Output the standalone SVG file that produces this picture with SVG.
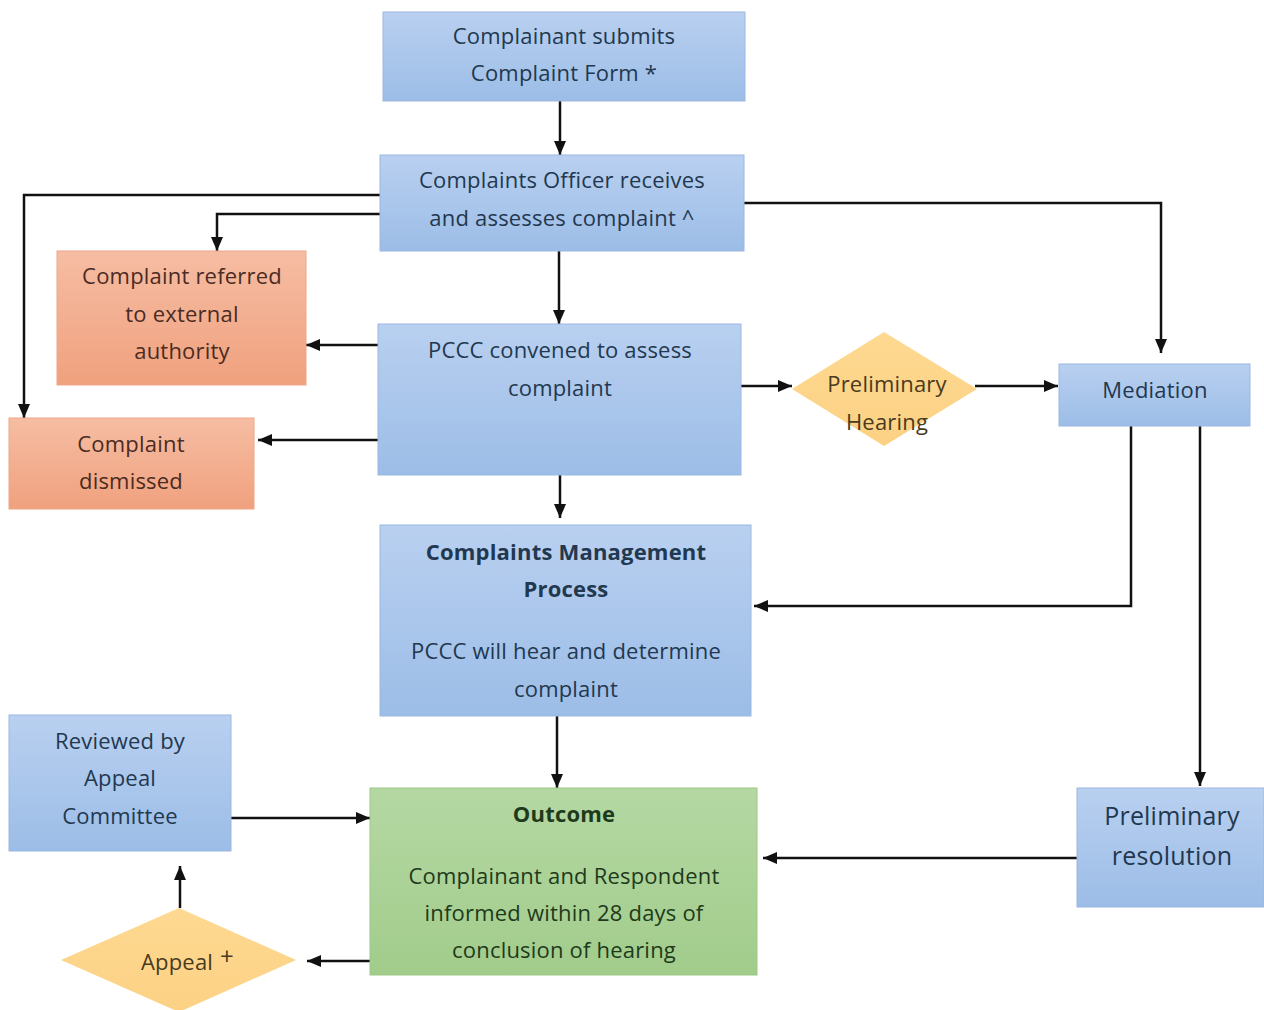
<svg xmlns="http://www.w3.org/2000/svg" width="1264" height="1010" viewBox="0 0 1264 1010">
<defs>
<linearGradient id="gb" x1="0" y1="0" x2="0" y2="1"><stop offset="0" stop-color="#b9d0f0"/><stop offset="1" stop-color="#9cbde7"/></linearGradient>
<linearGradient id="go" x1="0" y1="0" x2="0" y2="1"><stop offset="0" stop-color="#f6bda3"/><stop offset="1" stop-color="#f0a17e"/></linearGradient>
<linearGradient id="gg" x1="0" y1="0" x2="0" y2="1"><stop offset="0" stop-color="#b5d8a3"/><stop offset="1" stop-color="#a1cc8b"/></linearGradient>
<linearGradient id="gy" x1="0" y1="0" x2="0" y2="1"><stop offset="0" stop-color="#fed991"/><stop offset="1" stop-color="#fcd184"/></linearGradient>
<marker id="ah" viewBox="0 0 14 12" refX="14" refY="6" markerWidth="14" markerHeight="12" markerUnits="userSpaceOnUse" orient="auto"><path d="M0,0 L14,6 L0,12 z" fill="#111"/></marker>
</defs>
<style>
text{font-family:"Open Sans","Noto Sans",sans-serif;font-size:22px;text-anchor:middle;letter-spacing:0.2px}
.b{fill:url(#gb);stroke:#9ab8e0;stroke-width:1}
.o{fill:url(#go);stroke:#eea586;stroke-width:1}
.g{fill:url(#gg);stroke:#9cc785;stroke-width:1}
.y{fill:url(#gy)}
.tb{fill:#22384f}
.to{fill:#4b2b22}
.tg{fill:#1e3a1b}
.ty{fill:#4a3a1e}
.bold{font-weight:bold}
#connectors path{fill:none;stroke:#111;stroke-width:2.5;marker-end:url(#ah)}
</style>
<rect width="1264" height="1010" fill="#fff"/>
<g id="connectors">
<path d="M560,101 V155"/>
<path d="M380,195 H24 V418"/>
<path d="M380,214 H217 V251"/>
<path d="M744,203 H1161 V353"/>
<path d="M559,251 V324"/>
<path d="M378,345 H306"/>
<path d="M378,440 H258"/>
<path d="M741,386 H792"/>
<path d="M975,386 H1058"/>
<path d="M560,475 V518"/>
<path d="M1131,426 V606 H754"/>
<path d="M1200,426 V786"/>
<path d="M557,716 V788"/>
<path d="M231,818 H370"/>
<path d="M1077,858 H763"/>
<path d="M370,961 H307"/>
<path d="M180,908 V866"/>
</g>
<g id="n1"><rect class="b" x="383" y="12" width="362" height="89"/><text class="tb" x="564" y="44">Complainant submits</text><text class="tb" x="564" y="81">Complaint Form *</text></g>
<g id="n2"><rect class="b" x="380" y="155" width="364" height="96"/><text class="tb" x="562" y="188">Complaints Officer receives</text><text class="tb" x="562" y="226">and assesses complaint ^</text></g>
<g id="n3"><rect class="o" x="57" y="251" width="249" height="134"/><text class="to" x="182" y="284">Complaint referred</text><text class="to" x="182" y="322">to external</text><text class="to" x="182" y="359">authority</text></g>
<g id="n4"><rect class="b" x="378" y="324" width="363" height="151"/><text class="tb" x="560" y="358">PCCC convened to assess</text><text class="tb" x="560" y="396">complaint</text></g>
<g id="n5"><rect class="o" x="9" y="418" width="245" height="91"/><text class="to" x="131" y="452">Complaint</text><text class="to" x="131" y="489">dismissed</text></g>
<g id="n6"><polygon class="y" points="884,332 977,389 884,446 792,389"/><text class="ty" x="887" y="392">Preliminary</text><text class="ty" x="887" y="430">Hearing</text></g>
<g id="n7"><rect class="b" x="1059" y="364" width="191" height="62"/><text class="tb" x="1155" y="398">Mediation</text></g>
<g id="n8"><rect class="b" x="380" y="525" width="371" height="191"/><text class="tb bold" x="566" y="560">Complaints Management</text><text class="tb bold" x="566" y="597">Process</text><text class="tb" x="566" y="659">PCCC will hear and determine</text><text class="tb" x="566" y="697">complaint</text></g>
<g id="n9"><rect class="b" x="9" y="715" width="222" height="136"/><text class="tb" x="120" y="749">Reviewed by</text><text class="tb" x="120" y="786">Appeal</text><text class="tb" x="120" y="824">Committee</text></g>
<g id="n10"><rect class="g" x="370" y="788" width="387" height="187"/><text class="tg bold" x="564" y="822">Outcome</text><text class="tg" x="564" y="884">Complainant and Respondent</text><text class="tg" x="564" y="921">informed within 28 days of</text><text class="tg" x="564" y="958">conclusion of hearing</text></g>
<g id="n11"><rect class="b" x="1077" y="788" width="187" height="119"/><text class="tb" x="1172" y="825" style="font-size:25px">Preliminary</text><text class="tb" x="1172" y="865" style="font-size:25px">resolution</text></g>
<g id="n12"><polygon class="y" points="179,908 296,960 179,1012 61,960"/><text class="ty" x="177" y="970">Appeal</text><text class="ty" x="227" y="965" style="font-size:24px">+</text></g>
</svg>
